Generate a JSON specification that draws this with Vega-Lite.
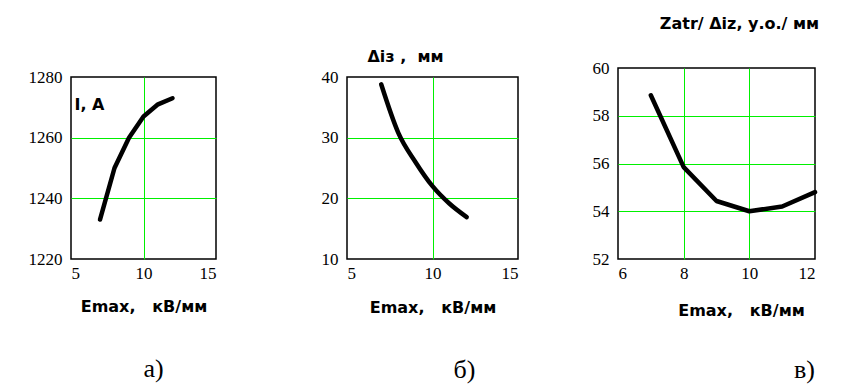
{
  "$schema": "https://vega.github.io/schema/vega-lite/v6.json",
  "padding": {"left": 27, "top": 14, "right": 10, "bottom": 5},
  "background": "white",
  "datasets": {
    "a": [{"E": 7, "I": 1233}, {"E": 8, "I": 1250}, {"E": 9, "I": 1260}, {"E": 10, "I": 1267}, {"E": 11, "I": 1271}, {"E": 12, "I": 1273}],
    "b": [{"E": 7, "d": 38.8}, {"E": 8, "d": 30.8}, {"E": 9, "d": 26}, {"E": 10, "d": 22}, {"E": 11, "d": 19.1}, {"E": 12, "d": 16.9}],
    "c": [{"E": 7, "z": 58.86}, {"E": 8, "z": 55.85}, {"E": 9, "z": 54.43}, {"E": 10, "z": 54.0}, {"E": 11, "z": 54.2}, {"E": 12, "z": 54.8}],
    "empty": []
  },
  "config": {
    "view": {"stroke": "black", "strokeWidth": 1.5},
    "axis": {
      "domain": false, "ticks": false,
      "labelFont": "Liberation Serif", "labelFontSize": 17, "labelColor": "black",
      "grid": true, "gridColor": "#00f000", "gridWidth": 1,
      "titleFont": "DejaVu Sans", "titleFontWeight": "bold", "titleFontSize": 16, "titleColor": "black"
    },
    "axisX": {"labelPadding": 6, "titleAngle": 0, "titleAlign": "center", "titleBaseline": "alphabetic"},
    "axisY": {"labelPadding": 9, "titleAngle": 0, "titleBaseline": "alphabetic"},
    "title": {"font": "Liberation Serif", "fontSize": 26, "fontWeight": "normal", "color": "black", "orient": "bottom", "frame": "group", "anchor": "middle"}
  },
  "hconcat": [
    {
      "vconcat": [
        {"data": {"name": "empty"}, "width": 1, "height": 1, "mark": "point", "view": {"stroke": null, "fill": "white"}},
        {
          "hconcat": [
            {
              "data": {"name": "a"},
              "width": 145, "height": 182,
              "title": {"text": "а)", "dx": 10, "offset": 42},
              "mark": {"type": "line", "color": "black", "strokeWidth": 4.5, "strokeCap": "round", "strokeJoin": "round"},
              "encoding": {
                "x": {"field": "E", "type": "quantitative", "scale": {"domain": [5, 15], "nice": false, "zero": false},
                  "axis": {"values": [5, 10, 15], "title": "Emax,\u00a0\u00a0\u00a0кВ/мм", "titleY": 52, "gridColor": "#00f000",
                    "gridOpacity": {"condition": {"test": "datum.value == 10", "value": 1}, "value": 0}}},
                "y": {"field": "I", "type": "quantitative", "scale": {"domain": [1220, 1280], "nice": false, "zero": false},
                  "axis": {"values": [1220, 1240, 1260, 1280], "format": "d", "title": "I, A", "titleX": 3, "titleY": 32, "titleAlign": "left", "gridColor": "#00f000",
                    "gridOpacity": {"condition": {"test": "datum.value > 1220 && datum.value < 1280", "value": 1}, "value": 0}}}
              }
            },
            {
              "data": {"name": "b"},
              "width": 171, "height": 182,
              "title": {"text": "б)", "dx": 32, "offset": 42},
              "mark": {"type": "line", "color": "black", "strokeWidth": 4.5, "strokeCap": "round", "strokeJoin": "round", "interpolate": "monotone"},
              "encoding": {
                "x": {"field": "E", "type": "quantitative", "scale": {"domain": [5, 15], "nice": false, "zero": false},
                  "axis": {"values": [5, 10, 15], "title": "Emax,\u00a0\u00a0\u00a0кВ/мм", "titleY": 53, "gridColor": "#00f000",
                    "gridOpacity": {"condition": {"test": "datum.value == 10", "value": 1}, "value": 0}}},
                "y": {"field": "d", "type": "quantitative", "scale": {"domain": [10, 40], "nice": false, "zero": false},
                  "axis": {"values": [10, 20, 30, 40], "title": "Δiз ,\u00a0 мм", "titleX": 58, "titleY": -16, "titleAlign": "center", "gridColor": "#00f000",
                    "gridOpacity": {"condition": {"test": "datum.value > 10 && datum.value < 40", "value": 1}, "value": 0}}}
              }
            }
          ],
          "spacing": 131, "bounds": "flush"
        }
      ],
      "spacing": -22, "bounds": "full"
    },
    {
      "data": {"name": "c"},
      "width": 197, "height": 191,
      "title": {"text": "в)", "dx": 88, "offset": 39},
      "mark": {"type": "line", "color": "black", "strokeWidth": 4.5, "strokeCap": "round", "strokeJoin": "round"},
      "encoding": {
        "x": {"field": "E", "type": "quantitative", "scale": {"domain": [6, 12], "nice": false, "zero": false},
          "axis": {"values": [6, 8, 10, 12], "title": "Emax,\u00a0\u00a0\u00a0кВ/мм", "titleX": 123, "titleY": 56, "gridColor": "#00f000",
            "gridOpacity": {"condition": {"test": "datum.value > 6 && datum.value < 12", "value": 1}, "value": 0}}},
        "y": {"field": "z", "type": "quantitative", "scale": {"domain": [52, 60], "nice": false, "zero": false},
          "axis": {"values": [52, 54, 56, 58, 60], "title": "Zatr/ Δiz, у.о./ мм", "titleX": 121, "titleY": -40, "titleAlign": "center", "gridColor": "#00f000",
            "gridOpacity": {"condition": {"test": "datum.value > 52 && datum.value < 60", "value": 1}, "value": 0}}}
      }
    }
  ],
  "spacing": 72, "bounds": "full"
}
